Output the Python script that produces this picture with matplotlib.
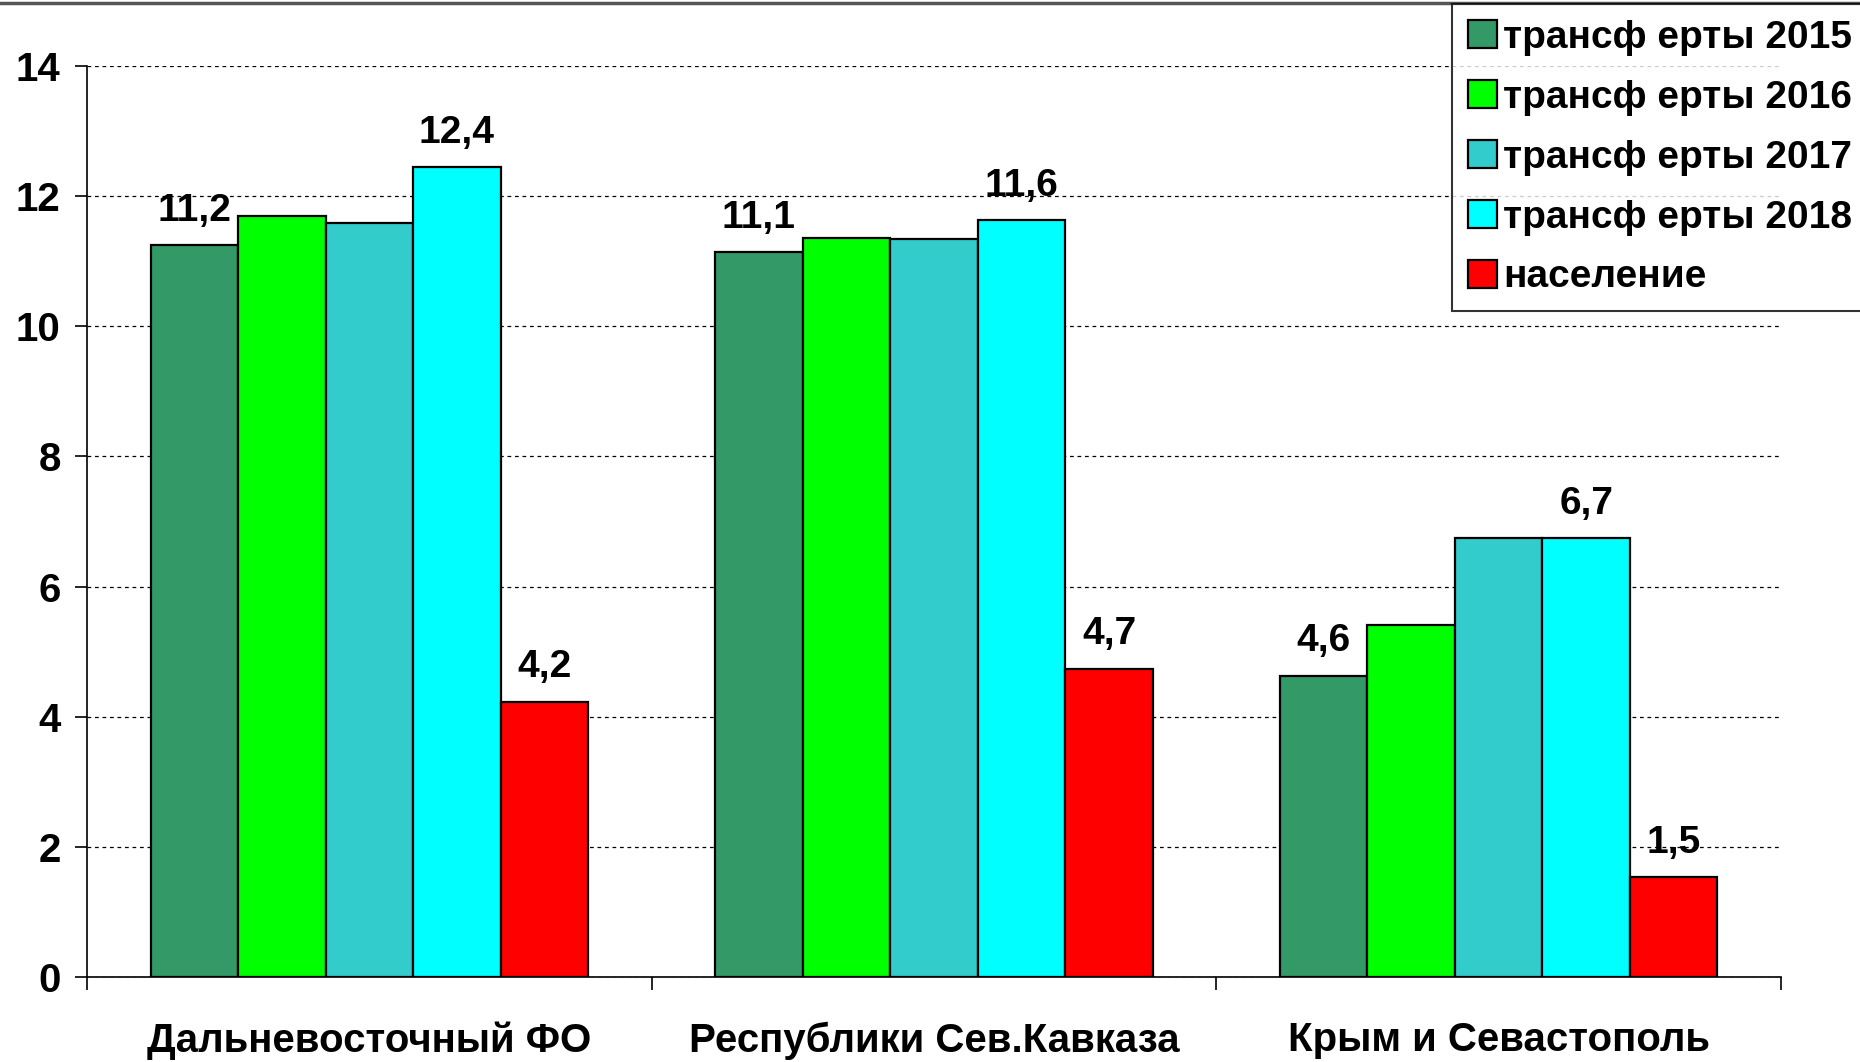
import numpy as np
import matplotlib
matplotlib.use('Agg')
import matplotlib.pyplot as plt
from matplotlib.lines import Line2D

plt.rcParams['font.family'] = ['Liberation Sans', 'DejaVu Sans']
plt.rcParams['font.weight'] = 'bold'

# data
regions = ['Дальневосточный ФО', 'Республики Сев.Кавказа', 'Крым и Севастополь']
series = ['трансф ерты 2015', 'трансф ерты 2016', 'трансф ерты 2017',
          'трансф ерты 2018', 'население']
tr2015 = [11.24, 11.14, 4.63]
tr2016 = [11.70, 11.36, 5.41]
tr2017 = [11.58, 11.34, 6.74]
tr2018 = [12.44, 11.63, 6.74]
population = [4.23, 4.74, 1.53]
labelled = [0, 3, 4]   # which series get value labels

colors = ['#339966', '#00FF00', '#33CCCC', '#00FFFF', '#FF0000']
values = [tr2015, tr2016, tr2017, tr2018, population]

fig = plt.figure(figsize=(18.6, 10.62), dpi=100)
ax = fig.add_axes([0.0468, 0.080, 0.9107, 0.858])

x = np.arange(len(regions))
w = 0.155
for k, (vals, col, name) in enumerate(zip(values, colors, series)):
    pos = x + (k - 2) * w
    bars = ax.bar(pos, vals, width=w, color=col, edgecolor='black',
                  linewidth=1.6, label=name, zorder=3)
    if k in labelled:
        for b, v in zip(bars, vals):
            ax.text(b.get_x() + b.get_width() / 2, v + 0.25,
                    ('%.1f' % v).replace('.', ','), ha='center', va='bottom',
                    fontsize=28, fontweight='bold', zorder=4)

ax.set_xlim(-0.5, 2.5)
ax.set_ylim(0, 14)
ax.set_yticks(np.arange(0, 15, 2))
ax.set_yticklabels([str(v) for v in range(0, 15, 2)], fontsize=29, fontweight='bold')
ax.yaxis.grid(True, color='black', linestyle=(0, (3, 3)), linewidth=0.9, zorder=0)
ax.set_axisbelow(True)

ax.set_xticks([-0.5, 0.5, 1.5, 2.5])
ax.set_xticklabels([])
ax.set_xticks(x, minor=True)
ax.set_xticklabels(regions, minor=True, fontsize=29, fontweight='bold')
ax.tick_params(axis='x', which='minor', length=0, pad=32)
ax.tick_params(axis='x', which='major', length=9, width=1.2)
ax.tick_params(axis='y', length=9, width=1.2, pad=10)

for s in ['top', 'right']:
    ax.spines[s].set_visible(False)
ax.spines['left'].set_linewidth(1.2)
ax.spines['bottom'].set_linewidth(1.2)

leg = fig.legend(loc='upper right', bbox_to_anchor=(1.004, 0.996),
                 prop={'weight': 'bold', 'size': 28},
                 frameon=True, fancybox=False, edgecolor='black',
                 handlelength=0.75, handleheight=0.75, handletextpad=0.15,
                 labelspacing=0.615, borderpad=0.4, borderaxespad=0)
leg.get_frame().set_linewidth(1.5)

# grey rule along the top edge
fig.add_artist(Line2D([0, 1], [0.997, 0.997], color='#555555', linewidth=2.5))

fig.savefig('out.png', dpi=100)
